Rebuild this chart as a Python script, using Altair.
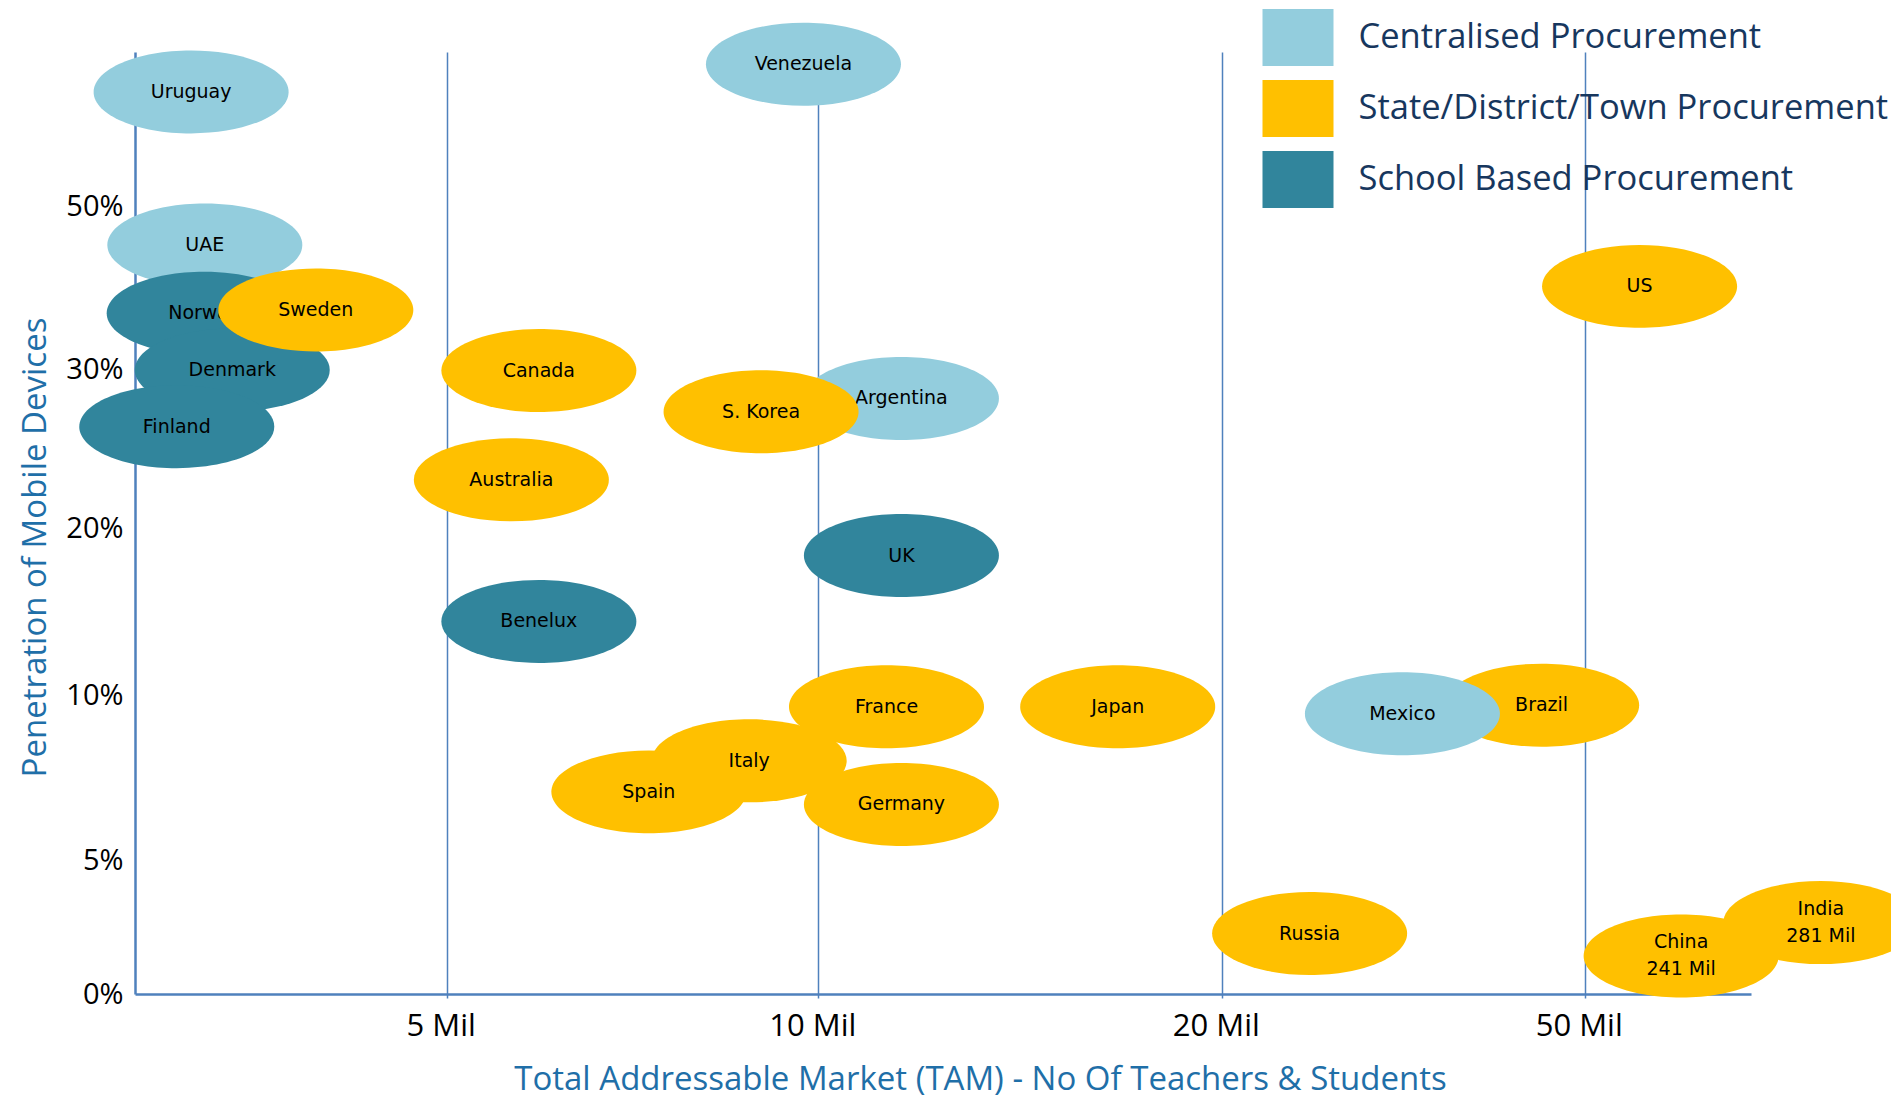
import altair as alt
import pandas as pd

# ---- data ----
countries = ["Uruguay", "Venezuela", "UAE", "Norway", "Denmark", "Finland",
             "Canada", "Australia", "Benelux", "Argentina", "UK", "France",
             "Japan", "Spain", "Italy", "Germany", "Russia", "Brazil", "Mexico",
             "US", "China", "India", "Sweden", "S. Korea"]
labels = ["Uruguay", "Venezuela", "UAE", "Norway", "Denmark", "Finland",
          "Canada", "Australia", "Benelux", "Argentina", "UK", "France",
          "Japan", "Spain", "Italy", "Germany", "Russia", "Brazil", "Mexico",
          "US", "China\n241 Mil", "India\n281 Mil", "Sweden", "S. Korea"]
# position on the (stretched) TAM axis, in millions
tam = [0.9, 9.8, 1.12, 1.11, 1.56, 0.67,
       6.24, 5.87, 6.24, 12.06, 12.06, 11.69,
       17.42, 7.72, 9.07, 12.06, 27.26, 46.44, 34.93,
       59.9, 67.4, 92.6, 2.9, 9.23]
# penetration of mobile devices, %
pen = [64.1, 67.5, 45.3, 36.9, 29.96, 26.4,
       29.92, 23.06, 14.45, 28.17, 18.39, 9.67,
       9.67, 7.09, 8.03, 6.71, 2.27, 9.72, 9.46,
       40.2, 1.43, 2.68, 37.3, 27.34]
C, S, B = "Centralised Procurement", "State/District/Town Procurement", "School Based Procurement"
category = [C, C, C, B, B, B,
            S, S, B, C, B, S,
            S, S, S, S, S, S, C,
            S, S, S, S, S]
zlevel = [0] * 22 + [1, 1]

cat_order = [C, S, B]
cat_colors = ["#93CDDD", "#FFC000", "#31859C"]

x_ticks = [5, 10, 20, 50]
y_ticks = [0, 5, 10, 20, 30, 50]

df = pd.DataFrame({"country": countries, "label": labels, "tam": tam,
                   "pen": pen, "cat": category, "z": zlevel})

LINE = "#4F81BD"
TITLE = "#1F6FA8"
W, H = 1616, 942

ELLIPSE = ("M-1,0 C-1,-0.235 -0.5523,-0.4256 0,-0.4256 "
           "C0.5523,-0.4256 1,-0.235 1,0 "
           "C1,0.235 0.5523,0.4256 0,0.4256 "
           "C-0.5523,0.4256 -1,0.235 -1,0 Z")

x_enc = alt.X("tam:Q",
              scale=alt.Scale(domain=[0, 5, 10, 20, 50, 80],
                              range=[0, 311.7, 683.3, 1086.8, 1449.7, W],
                              nice=False, zero=False),
              axis=alt.Axis(values=x_ticks, labelExpr="datum.value + ' Mil'",
                            grid=True, gridColor=LINE, gridWidth=1.5,
                            domainColor=LINE, domainWidth=2.5,
                            ticks=True, tickSize=4, tickColor=LINE, tickWidth=1.5,
                            labelFont="Open Sans", labelFontSize=31, labelColor="#000000",
                            labelBaseline="middle", labelPadding=28, labelOffset=-6,
                            labelOverlap=False, labelFlush=False,
                            title="Total Addressable Market (TAM) - No Of Teachers & Students",
                            titleFont="Open Sans", titleFontSize=33, titleFontWeight="normal",
                            titleColor=TITLE, titleX=845, titleY=85,
                            titleBaseline="middle", titleAlign="center"))
y_enc = alt.Y("pen:Q",
              scale=alt.Scale(domain=[0, 5, 10, 20, 30, 50, 69],
                              range=[H, 808.8, 643.9, 476.6, 317.3, 154.7, 0],
                              nice=False, zero=False),
              axis=alt.Axis(values=y_ticks, labelExpr="datum.value + '%'",
                            grid=False, ticks=False,
                            domainColor=LINE, domainWidth=2.5,
                            labelFont="Open Sans", labelFontSize=29, labelColor="#000000",
                            labelPadding=12, labelBaseline="middle",
                            labelOverlap=False, labelFlush=False,
                            title="Penetration of Mobile Devices",
                            titleFont="Open Sans", titleFontSize=33, titleFontWeight="normal",
                            titleColor=TITLE, titleX=-100, titleY=495, titleAngle=270,
                            titleBaseline="middle", titleAlign="center"))

color_enc = alt.Color("cat:N",
                      scale=alt.Scale(domain=cat_order, range=cat_colors),
                      legend=alt.Legend(title=None, orient="none", legendX=1127.5, legendY=-50,
                                        symbolType="M-1,-0.8H1V0.8H-1Z", symbolSize=5041,
                                        symbolStrokeWidth=0, symbolOpacity=1,
                                        labelFont="Open Sans", labelFontSize=34.5,
                                        labelColor="#17375E", labelOffset=25,
                                        labelLimit=0, rowPadding=7, padding=0))

base = alt.Chart(df).encode(x=x_enc, y=y_enc)


def bubbles(z):
    return base.transform_filter(f"datum.z == {z}").mark_point(
        shape=ELLIPSE, size=38025, filled=True, opacity=1
    ).encode(color=color_enc)


def texts(z, multiline=False):
    cond = "indexof(datum.label, '\\n') >= 0" if multiline else "indexof(datum.label, '\\n') < 0"
    return base.transform_filter(f"datum.z == {z}").transform_filter(cond).mark_text(
        font="DejaVu Sans", fontSize=19, color="#000000",
        lineBreak="\n", lineHeight=27, baseline="middle", align="center",
        dy=-13.5 if multiline else 0
    ).encode(text="label:N")


chart = alt.layer(bubbles(0), texts(0), texts(0, True), bubbles(1), texts(1)).properties(
    width=W, height=H,
    autosize=alt.AutoSizeParams(type="none"),
    padding={"left": 127, "top": 44, "right": 140, "bottom": 105},
    background="white",
).configure_view(stroke=None)

chart.save("out.html", embed_options={"renderer": "svg", "actions": False})
